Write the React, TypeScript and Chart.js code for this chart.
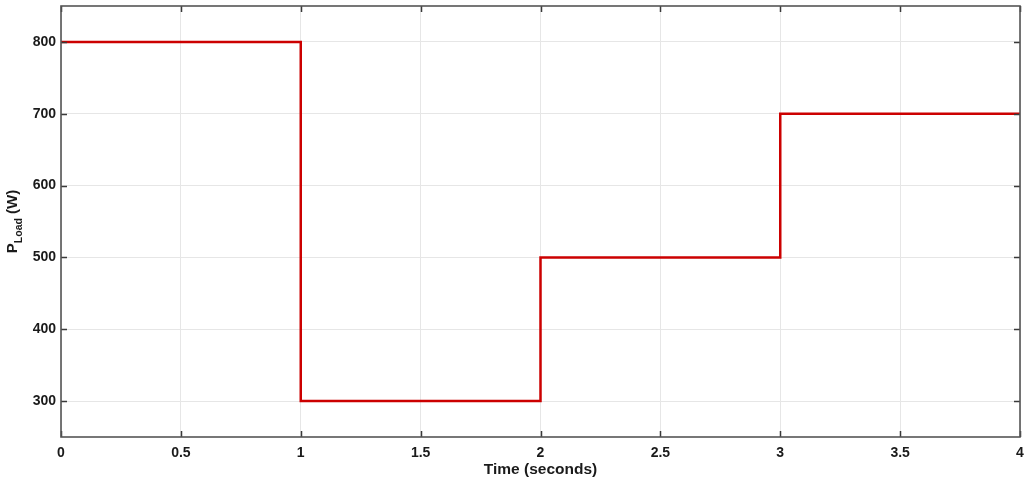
import React, { useEffect, useRef } from "react";
import { Chart, registerables } from "chart.js";

Chart.register(...registerables);

const timeValues = [0, 1, 1, 2, 2, 3, 3, 4];
const loadValues = [800, 800, 300, 300, 500, 500, 700, 700];
const xTicks = [0, 0.5, 1, 1.5, 2, 2.5, 3, 3.5, 4];
const yTicks = [300, 400, 500, 600, 700, 800];
const xTitle = "Time (seconds)";
const yTitleMain = "P";
const yTitleSub = "Load";
const yTitleUnit = " (W)";

const FONT = "'Liberation Sans', Arial, sans-serif";

const framePlugin = {
  id: "frame",
  afterDraw(chart: any) {
    const { ctx, chartArea } = chart;
    const { left, right, top, bottom } = chartArea;
    const xs = chart.scales.x;
    const ys = chart.scales.y;
    ctx.save();
    ctx.strokeStyle = "#3a3a3a";
    ctx.lineWidth = 1.5;
    ctx.beginPath();
    xTicks.forEach((t) => {
      const px = Math.round(xs.getPixelForValue(t)) + 0.5;
      ctx.moveTo(px, bottom);
      ctx.lineTo(px, bottom - 6);
      ctx.moveTo(px, top);
      ctx.lineTo(px, top + 6);
    });
    yTicks.forEach((t) => {
      const py = Math.round(ys.getPixelForValue(t)) + 0.5;
      ctx.moveTo(left, py);
      ctx.lineTo(left + 6, py);
      ctx.moveTo(right, py);
      ctx.lineTo(right - 6, py);
    });
    ctx.stroke();
    ctx.strokeStyle = "#555555";
    ctx.lineWidth = 1.6;
    ctx.strokeRect(left, top, right - left, bottom - top);

    ctx.fillStyle = "#1a1a1a";
    ctx.font = `bold 15.5px ${FONT}`;
    ctx.textAlign = "center";
    ctx.textBaseline = "alphabetic";
    ctx.fillText(xTitle, (left + right) / 2, 474);

    const mainFont = `bold 15px ${FONT}`;
    const subFont = `bold 10.5px ${FONT}`;
    ctx.font = mainFont;
    const wMain = ctx.measureText(yTitleMain).width;
    const wUnit = ctx.measureText(yTitleUnit).width;
    ctx.font = subFont;
    const wSub = ctx.measureText(yTitleSub).width;
    const total = wMain + wSub + wUnit;
    ctx.translate(17, (top + bottom) / 2);
    ctx.rotate(-Math.PI / 2);
    ctx.textAlign = "left";
    let x0 = -total / 2;
    ctx.font = mainFont;
    ctx.fillText(yTitleMain, x0, 0);
    x0 += wMain;
    ctx.font = subFont;
    ctx.fillText(yTitleSub, x0, 5);
    x0 += wSub;
    ctx.font = mainFont;
    ctx.fillText(yTitleUnit, x0, 0);
    ctx.restore();
  },
};

export default function App() {
  const canvasRef = useRef<HTMLCanvasElement | null>(null);

  useEffect(() => {
    document.body.style.margin = "0";
    const canvas = canvasRef.current;
    if (!canvas) return;
    const chart = new Chart(canvas, {
      type: "line",
      data: {
        datasets: [
          {
            data: timeValues.map((t, i) => ({ x: t, y: loadValues[i] })),
            borderColor: "#cc0000",
            borderWidth: 2.5,
            pointRadius: 0,
            fill: false,
            tension: 0,
          },
        ],
      },
      options: {
        animation: false,
        responsive: false,
        maintainAspectRatio: false,
        devicePixelRatio: 1,
        layout: { padding: { top: 6, right: 11, left: 0, bottom: 0 }, autoPadding: false },
        plugins: {
          legend: { display: false },
          tooltip: { enabled: false },
        },
        scales: {
          x: {
            type: "linear",
            min: 0,
            max: 4,
            afterFit: (s: any) => {
              s.height = 46;
              s.paddingLeft = 0;
              s.paddingRight = 0;
              s.paddingTop = 0;
              s.paddingBottom = 0;
            },
            afterBuildTicks: (s: any) => {
              s.ticks = xTicks.map((v) => ({ value: v }));
            },
            grid: { color: "#e6e6e6", lineWidth: 1, drawTicks: false },
            border: { display: false },
            ticks: {
              padding: 8,
              color: "#1a1a1a",
              font: { family: FONT, size: 14, weight: "bold" },
              maxRotation: 0,
              autoSkip: false,
              callback: (v: any) => String(v),
            },
          },
          y: {
            type: "linear",
            min: 250,
            max: 850,
            afterFit: (s: any) => {
              s.width = 61;
              s.paddingLeft = 0;
              s.paddingRight = 0;
              s.paddingTop = 0;
              s.paddingBottom = 0;
            },
            afterBuildTicks: (s: any) => {
              s.ticks = yTicks.map((v) => ({ value: v }));
            },
            grid: { color: "#e6e6e6", lineWidth: 1, drawTicks: false },
            border: { display: false },
            ticks: {
              padding: 5,
              color: "#1a1a1a",
              font: { family: FONT, size: 14, weight: "bold" },
              autoSkip: false,
              callback: (v: any) => String(v),
            },
          },
        },
      },
      plugins: [framePlugin],
    });
    return () => chart.destroy();
  }, []);

  return (
    <div style={{ width: 1031, height: 483, background: "#ffffff" }}>
      <canvas ref={canvasRef} width={1031} height={483} style={{ display: "block" }} />
    </div>
  );
}
